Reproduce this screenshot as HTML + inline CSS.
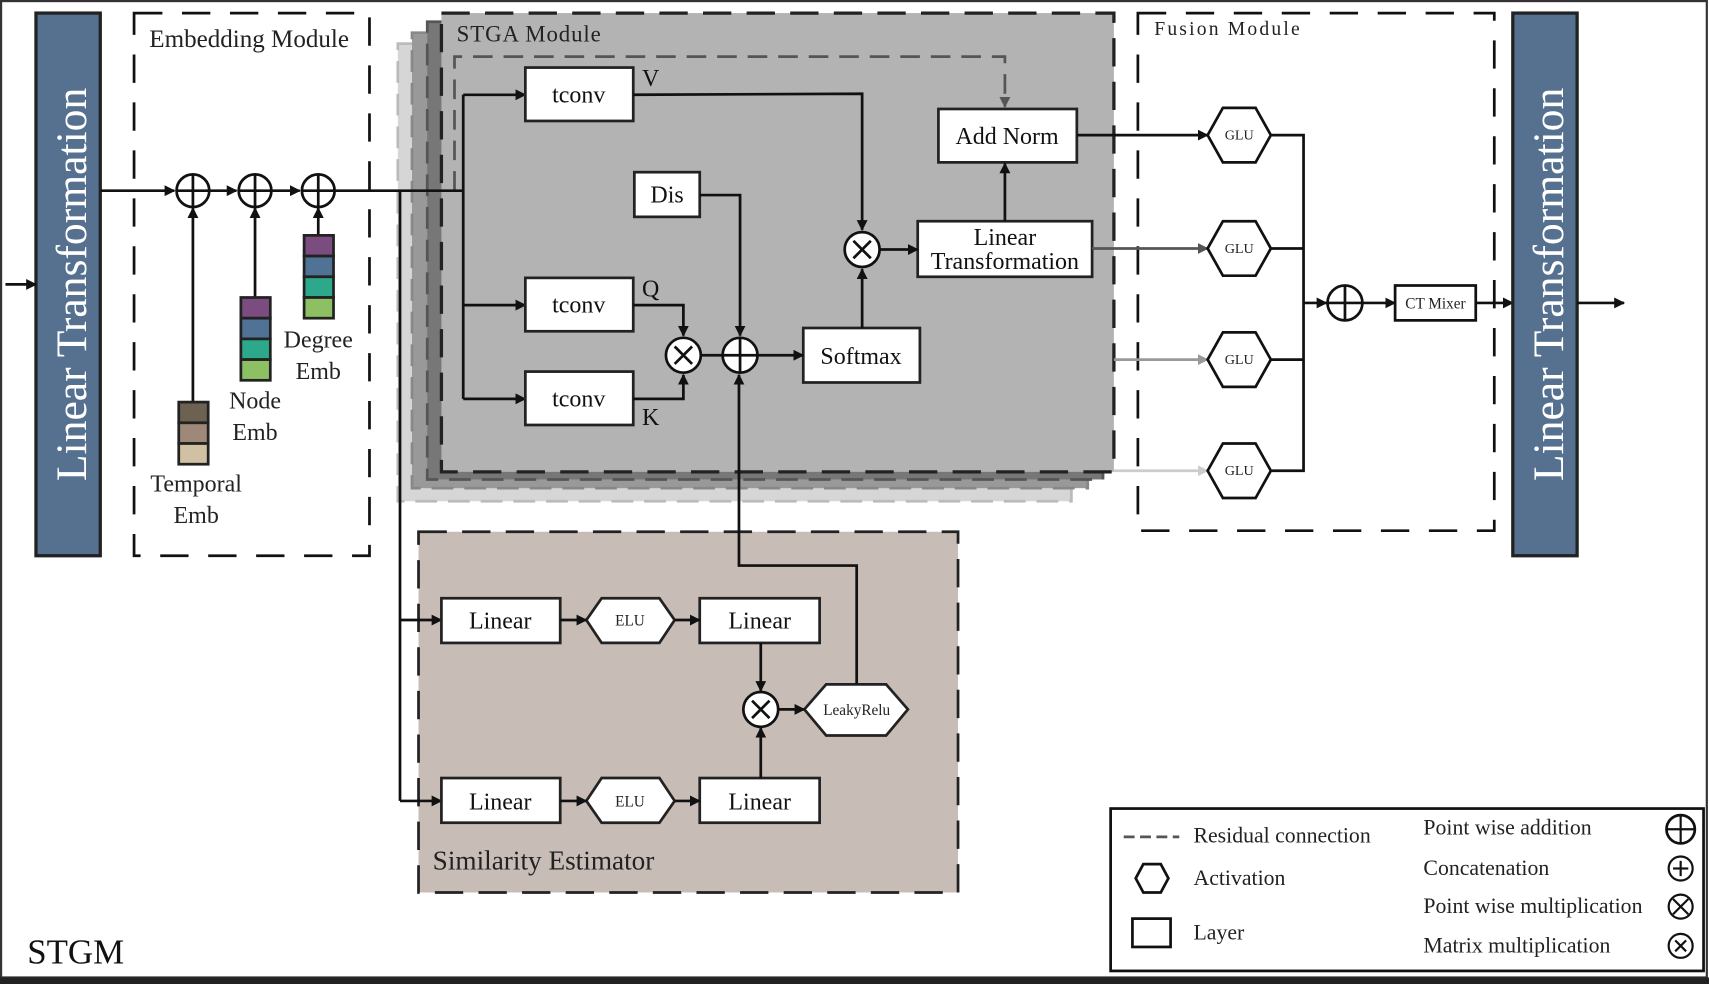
<!DOCTYPE html>
<html><head><meta charset="utf-8"><style>
html,body{margin:0;padding:0;background:#fff;}
svg{display:block;font-family:"Liberation Serif",serif;}
</style></head><body>
<svg width="1709" height="984" viewBox="0 0 1568 903" preserveAspectRatio="none" xmlns="http://www.w3.org/2000/svg">
<defs>
<marker id="a" markerWidth="10" markerHeight="10" refX="9" refY="5" orient="auto" markerUnits="userSpaceOnUse"><path d="M0,0 L10,5 L0,10 z" fill="#111"/></marker>
<marker id="ag" markerWidth="10" markerHeight="10" refX="9" refY="5" orient="auto" markerUnits="userSpaceOnUse"><path d="M0,0 L10,5 L0,10 z" fill="#555"/></marker>
<marker id="ag2" markerWidth="10" markerHeight="10" refX="9" refY="5" orient="auto" markerUnits="userSpaceOnUse"><path d="M0,0 L10,5 L0,10 z" fill="#999"/></marker>
<marker id="ag3" markerWidth="10" markerHeight="10" refX="9" refY="5" orient="auto" markerUnits="userSpaceOnUse"><path d="M0,0 L10,5 L0,10 z" fill="#ccc"/></marker>
</defs>
<rect x="0" y="0" width="1568" height="903" fill="#fff"/>
<rect x="1" y="1" width="1565" height="896" fill="none" stroke="#333" stroke-width="2"/>
<rect x="0" y="897" width="1568" height="6" fill="#222"/>

<!-- Left blue bar -->
<rect x="33" y="12" width="59" height="498" fill="#56718f" stroke="#222" stroke-width="3"/>
<text transform="translate(79,261) rotate(-90)" text-anchor="middle" font-size="40" fill="#fff">Linear Transformation</text>
<line x1="5" y1="261" x2="33" y2="261" stroke="#111" stroke-width="2.5" marker-end="url(#a)"/>

<!-- Embedding module -->
<rect x="123" y="12" width="216" height="498" fill="none" stroke="#111" stroke-width="2.5" stroke-dasharray="26,18"/>
<text x="137" y="43" font-size="23" fill="#222">Embedding Module</text>

<!-- STGA stack -->
<rect x="365" y="40" width="618" height="420" fill="#d6d6d6" stroke="#bbb" stroke-width="2.5" stroke-dasharray="20,10"/>
<rect x="378" y="30" width="620" height="418" fill="#999" stroke="#888" stroke-width="2.5" stroke-dasharray="20,10"/>
<rect x="392" y="20" width="620" height="420" fill="#777" stroke="#555" stroke-width="2.5" stroke-dasharray="20,10"/>
<rect x="405" y="12" width="617" height="421" fill="#b3b3b3" stroke="#222" stroke-width="3" stroke-dasharray="26,14"/>
<text x="419" y="38" font-size="21" letter-spacing="0.8" fill="#222">STGA Module</text>
<path d="M417,175 L417,52 L922,52 L922,98" fill="none" stroke="#555" stroke-width="2.5" stroke-dasharray="18,10" marker-end="url(#ag)"/>

<!-- Main line -->
<line x1="92" y1="175" x2="160" y2="175" stroke="#111" stroke-width="2.5" marker-end="url(#a)"/>
<line x1="192" y1="175" x2="217" y2="175" stroke="#111" stroke-width="2.5" marker-end="url(#a)"/>
<line x1="249" y1="175" x2="275" y2="175" stroke="#111" stroke-width="2.5" marker-end="url(#a)"/>
<line x1="307" y1="175" x2="425" y2="175" stroke="#111" stroke-width="2.5"/>
<g fill="#fff" stroke="#111" stroke-width="2.5">
<circle cx="177" cy="175" r="15"/><circle cx="234" cy="175" r="15"/><circle cx="292" cy="175" r="15"/>
</g>
<g stroke="#111" stroke-width="2.5">
<line x1="162" y1="175" x2="192" y2="175"/><line x1="177" y1="160" x2="177" y2="190"/>
<line x1="219" y1="175" x2="249" y2="175"/><line x1="234" y1="160" x2="234" y2="190"/>
<line x1="277" y1="175" x2="307" y2="175"/><line x1="292" y1="160" x2="292" y2="190"/>
</g>
<line x1="177" y1="369" x2="177" y2="191" stroke="#111" stroke-width="2.5" marker-end="url(#a)"/>
<line x1="234" y1="273" x2="234" y2="191" stroke="#111" stroke-width="2.5" marker-end="url(#a)"/>
<line x1="292" y1="216" x2="292" y2="191" stroke="#111" stroke-width="2.5" marker-end="url(#a)"/>
<g stroke="#222" stroke-width="2.5">
<rect x="164" y="369" width="27" height="19" fill="#6d6152"/><rect x="164" y="388" width="27" height="19" fill="#9e8878"/><rect x="164" y="407" width="27" height="19" fill="#cfc1a2"/>
<rect x="221" y="273" width="27" height="19" fill="#7b4c80"/><rect x="221" y="292" width="27" height="19" fill="#4f7295"/><rect x="221" y="311" width="27" height="19" fill="#2ea88a"/><rect x="221" y="330" width="27" height="19" fill="#8cc062"/>
<rect x="279" y="216" width="27" height="19" fill="#7b4c80"/><rect x="279" y="235" width="27" height="19" fill="#4f7295"/><rect x="279" y="254" width="27" height="19" fill="#2ea88a"/><rect x="279" y="273" width="27" height="19" fill="#8cc062"/>
</g>
<g font-size="22" fill="#222" text-anchor="middle">
<text x="180" y="451">Temporal</text><text x="180" y="480">Emb</text>
<text x="234" y="375">Node</text><text x="234" y="404">Emb</text>
<text x="292" y="319">Degree</text><text x="292" y="348">Emb</text>
</g>

<!-- STGA internals -->
<line x1="425" y1="87" x2="425" y2="366" stroke="#111" stroke-width="2.5"/>
<line x1="425" y1="87" x2="482" y2="87" stroke="#111" stroke-width="2.5" marker-end="url(#a)"/>
<line x1="425" y1="280" x2="482" y2="280" stroke="#111" stroke-width="2.5" marker-end="url(#a)"/>
<line x1="425" y1="366" x2="482" y2="366" stroke="#111" stroke-width="2.5" marker-end="url(#a)"/>
<g fill="#fff" stroke="#222" stroke-width="2.5">
<rect x="482" y="62" width="99" height="49"/>
<rect x="482" y="255" width="99" height="49"/>
<rect x="482" y="341" width="99" height="49"/>
<rect x="582" y="158" width="60" height="41"/>
<rect x="737" y="301" width="107" height="50"/>
<rect x="842" y="203" width="160" height="51"/>
<rect x="861" y="100" width="127" height="49"/>
</g>
<g font-size="22" fill="#111" text-anchor="middle">
<text x="531" y="94">tconv</text><text x="531" y="287">tconv</text><text x="531" y="373">tconv</text>
<text x="612" y="186">Dis</text>
<text x="790" y="334">Softmax</text>
<text x="922" y="225">Linear</text><text x="922" y="247">Transformation</text>
<text x="924" y="132">Add Norm</text>
<text x="597" y="79">V</text><text x="597" y="272">Q</text><text x="597" y="390">K</text>
</g>
<path d="M581,280 L627,280 L627,308" fill="none" stroke="#111" stroke-width="2.5" marker-end="url(#a)"/>
<path d="M581,366 L627,366 L627,344" fill="none" stroke="#111" stroke-width="2.5" marker-end="url(#a)"/>
<path d="M642,179 L679,179 L679,308" fill="none" stroke="#111" stroke-width="2.5" marker-end="url(#a)"/>
<path d="M581,87 L791,86 L791,211" fill="none" stroke="#111" stroke-width="2.5" marker-end="url(#a)"/>
<line x1="643" y1="326" x2="662" y2="326" stroke="#111" stroke-width="2.5"/>
<line x1="694" y1="326" x2="737" y2="326" stroke="#111" stroke-width="2.5" marker-end="url(#a)"/>
<line x1="791" y1="301" x2="791" y2="247" stroke="#111" stroke-width="2.5" marker-end="url(#a)"/>
<line x1="807" y1="229" x2="842" y2="229" stroke="#111" stroke-width="2.5" marker-end="url(#a)"/>
<line x1="922" y1="203" x2="922" y2="150" stroke="#111" stroke-width="2.5" marker-end="url(#a)"/>
<g fill="#fff" stroke="#111" stroke-width="2.5">
<circle cx="627" cy="326" r="16"/><circle cx="679" cy="326" r="16"/><circle cx="791" cy="229" r="16"/>
</g>
<g stroke="#111" stroke-width="2.5">
<line x1="619" y1="318" x2="635" y2="334"/><line x1="635" y1="318" x2="619" y2="334"/>
<line x1="663" y1="326" x2="695" y2="326"/><line x1="679" y1="310" x2="679" y2="342"/>
<line x1="783" y1="221" x2="799" y2="237"/><line x1="799" y1="221" x2="783" y2="237"/>
</g>

<!-- Fusion module -->
<rect x="1044" y="12" width="327" height="475" fill="none" stroke="#111" stroke-width="2.5" stroke-dasharray="26,18"/>
<text x="1059" y="32" font-size="18" letter-spacing="2" fill="#222">Fusion Module</text>
<line x1="988" y1="124" x2="1108" y2="124" stroke="#111" stroke-width="2.5" marker-end="url(#a)"/>
<line x1="1002" y1="228" x2="1108" y2="228" stroke="#555" stroke-width="2.5" marker-end="url(#ag)"/>
<line x1="1022" y1="330" x2="1108" y2="330" stroke="#999" stroke-width="2.5" marker-end="url(#ag2)"/>
<line x1="1022" y1="432" x2="1108" y2="432" stroke="#ccc" stroke-width="2.5" marker-end="url(#ag3)"/>
<g fill="#fff" stroke="#111" stroke-width="2.5">
<polygon points="1108,124 1122,99 1152,99 1166,124 1152,149 1122,149"/>
<polygon points="1108,228 1122,203 1152,203 1166,228 1152,253 1122,253"/>
<polygon points="1108,330 1122,305 1152,305 1166,330 1152,355 1122,355"/>
<polygon points="1108,432 1122,407 1152,407 1166,432 1152,457 1122,457"/>
</g>
<g font-size="13" fill="#222" text-anchor="middle">
<text x="1137" y="128">GLU</text><text x="1137" y="232">GLU</text><text x="1137" y="334">GLU</text><text x="1137" y="436">GLU</text>
</g>
<path d="M1166,124 L1196,124 L1196,432 L1166,432 M1166,228 L1196,228 M1166,330 L1196,330" fill="none" stroke="#111" stroke-width="2.5"/>
<line x1="1196" y1="278" x2="1217" y2="278" stroke="#111" stroke-width="2.5" marker-end="url(#a)"/>
<circle cx="1234" cy="278" r="16" fill="#fff" stroke="#111" stroke-width="2.5"/>
<line x1="1218" y1="278" x2="1250" y2="278" stroke="#111" stroke-width="2.5"/><line x1="1234" y1="262" x2="1234" y2="294" stroke="#111" stroke-width="2.5"/>
<line x1="1250" y1="278" x2="1280" y2="278" stroke="#111" stroke-width="2.5" marker-end="url(#a)"/>
<rect x="1280" y="262" width="74" height="32" fill="#fff" stroke="#111" stroke-width="2.5"/>
<text x="1317" y="283" font-size="14" text-anchor="middle" fill="#222">CT Mixer</text>
<line x1="1354" y1="278" x2="1388" y2="278" stroke="#111" stroke-width="2.5" marker-end="url(#a)"/>

<!-- Right blue bar -->
<rect x="1388" y="12" width="59" height="498" fill="#56718f" stroke="#222" stroke-width="3"/>
<text transform="translate(1434,261) rotate(-90)" text-anchor="middle" font-size="40" fill="#fff">Linear Transformation</text>
<line x1="1447" y1="278" x2="1490" y2="278" stroke="#111" stroke-width="2.5" marker-end="url(#a)"/>

<!-- Similarity estimator -->
<rect x="384" y="488" width="495" height="331" fill="#c8bdb6" stroke="#222" stroke-width="2.5" stroke-dasharray="26,14"/>
<text x="397" y="798" font-size="25" fill="#222">Similarity Estimator</text>
<path d="M367,175 L367,735" fill="none" stroke="#111" stroke-width="2.5"/>
<line x1="367" y1="569" x2="405" y2="569" stroke="#111" stroke-width="2.5" marker-end="url(#a)"/>
<line x1="367" y1="735" x2="405" y2="735" stroke="#111" stroke-width="2.5" marker-end="url(#a)"/>
<g fill="#fff" stroke="#222" stroke-width="2.5">
<rect x="405" y="549" width="109" height="41"/><rect x="642" y="549" width="110" height="41"/>
<rect x="405" y="714" width="109" height="41"/><rect x="642" y="714" width="110" height="41"/>
<polygon points="538,569 552,549 605,549 619,569 605,590 552,590"/>
<polygon points="538,735 552,714 605,714 619,735 605,755 552,755"/>
<polygon points="738,651 758,628 813,628 833,651 813,675 758,675"/>
</g>
<g font-size="22" fill="#111" text-anchor="middle">
<text x="459" y="577">Linear</text><text x="697" y="577">Linear</text>
<text x="459" y="743">Linear</text><text x="697" y="743">Linear</text>
</g>
<g font-size="14" fill="#222" text-anchor="middle">
<text x="578" y="574">ELU</text><text x="578" y="740">ELU</text><text x="786" y="656">LeakyRelu</text>
</g>
<line x1="514" y1="569" x2="538" y2="569" stroke="#111" stroke-width="2.5" marker-end="url(#a)"/>
<line x1="619" y1="569" x2="642" y2="569" stroke="#111" stroke-width="2.5" marker-end="url(#a)"/>
<line x1="514" y1="735" x2="538" y2="735" stroke="#111" stroke-width="2.5" marker-end="url(#a)"/>
<line x1="619" y1="735" x2="642" y2="735" stroke="#111" stroke-width="2.5" marker-end="url(#a)"/>
<line x1="698" y1="590" x2="698" y2="634" stroke="#111" stroke-width="2.5" marker-end="url(#a)"/>
<line x1="698" y1="714" x2="698" y2="668" stroke="#111" stroke-width="2.5" marker-end="url(#a)"/>
<line x1="714" y1="651" x2="738" y2="651" stroke="#111" stroke-width="2.5" marker-end="url(#a)"/>
<circle cx="698" cy="651" r="16" fill="#fff" stroke="#111" stroke-width="2.5"/>
<line x1="690" y1="643" x2="706" y2="659" stroke="#111" stroke-width="2.5"/><line x1="706" y1="643" x2="690" y2="659" stroke="#111" stroke-width="2.5"/>
<path d="M786,628 L786,519 L678,519 L678,344" fill="none" stroke="#111" stroke-width="2.5" marker-end="url(#a)"/>

<!-- Legend -->
<rect x="1019" y="742" width="544" height="149" fill="#fff" stroke="#111" stroke-width="2.5"/>
<line x1="1031" y1="768" x2="1082" y2="768" stroke="#555" stroke-width="2.5" stroke-dasharray="10,5"/>
<polygon points="1042,806 1049,793 1065,793 1072,806 1065,819 1049,819" fill="#fff" stroke="#111" stroke-width="2.5"/>
<rect x="1039" y="843" width="35" height="26" fill="#fff" stroke="#111" stroke-width="2.5"/>
<g font-size="20" fill="#222">
<text x="1095" y="773">Residual connection</text>
<text x="1095" y="812">Activation</text>
<text x="1095" y="862">Layer</text>
<text x="1306" y="766">Point wise addition</text>
<text x="1306" y="803">Concatenation</text>
<text x="1306" y="838">Point wise multiplication</text>
<text x="1306" y="874">Matrix multiplication</text>
</g>
<g fill="none" stroke="#111" stroke-width="2">
<circle cx="1542" cy="761" r="13" stroke-width="2.5"/><line x1="1529" y1="761" x2="1555" y2="761"/><line x1="1542" y1="748" x2="1542" y2="774"/>
<circle cx="1542" cy="797" r="11"/><line x1="1535" y1="797" x2="1549" y2="797"/><line x1="1542" y1="790" x2="1542" y2="804"/>
<circle cx="1542" cy="832" r="11"/><line x1="1535" y1="825" x2="1549" y2="839"/><line x1="1549" y1="825" x2="1535" y2="839"/>
<circle cx="1542" cy="868" r="11"/><line x1="1537" y1="863" x2="1547" y2="873"/><line x1="1547" y1="863" x2="1537" y2="873"/>
</g>
<text x="25" y="884" font-size="32" fill="#111">STGM</text>
</svg>
</body></html>
